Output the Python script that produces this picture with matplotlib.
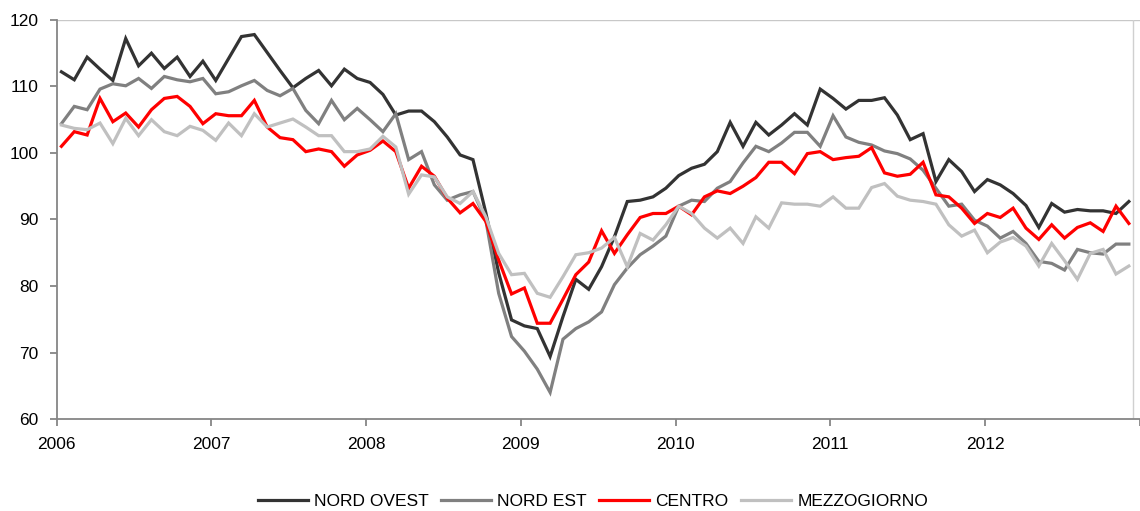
import numpy as np
import matplotlib
matplotlib.use('Agg')
import matplotlib.pyplot as plt

plt.rcParams['font.family'] = ['Liberation Sans', 'DejaVu Sans']

# monthly index values, Jan 2006 - Dec 2012
years = ['2006', '2007', '2008', '2009', '2010', '2011', '2012']

nord_ovest = [112.2, 111.0, 114.4, 112.6, 110.9, 117.2, 113.1, 115.0, 112.7, 114.4, 111.5, 113.8,
              110.9, 114.2, 117.5, 117.8, 115.1, 112.4, 109.8, 111.2, 112.4, 110.1, 112.6, 111.2,
              110.6, 108.8, 105.7, 106.3, 106.3, 104.7, 102.4, 99.7, 99.0, 91.0, 82.0, 74.9,
              74.0, 73.6, 69.4, 75.4, 81.0, 79.5, 82.9, 87.4, 92.7, 92.9, 93.4, 94.7,
              96.6, 97.7, 98.3, 100.2, 104.6, 101.0, 104.6, 102.7, 104.2, 105.9, 104.2, 109.6,
              108.2, 106.6, 107.9, 107.9, 108.3, 105.7, 102.0, 102.9, 95.7, 99.0, 97.2, 94.2,
              96.0, 95.2, 93.9, 92.1, 88.8, 92.4, 91.1, 91.5, 91.3, 91.3, 90.9, 92.7]

nord_est = [104.4, 107.0, 106.5, 109.6, 110.4, 110.1, 111.2, 109.7, 111.5, 111.0, 110.7, 111.2,
            108.9, 109.2, 110.1, 110.9, 109.4, 108.6, 109.7, 106.4, 104.4, 107.9, 105.0, 106.7,
            105.0, 103.2, 105.9, 99.0, 100.2, 95.2, 92.9, 93.7, 94.2, 89.9, 78.9, 72.4,
            70.2, 67.5, 64.0, 72.0, 73.6, 74.6, 76.1, 80.2, 82.7, 84.7, 86.0, 87.5,
            92.0, 92.9, 92.7, 94.7, 95.7, 98.5, 101.0, 100.2, 101.5, 103.1, 103.1, 101.0,
            105.6, 102.4, 101.6, 101.2, 100.3, 99.9, 99.1, 97.4, 94.7, 92.0, 92.3, 89.9,
            89.0, 87.2, 88.2, 86.4, 83.7, 83.4, 82.4, 85.5, 85.0, 84.8, 86.3, 86.3]

centro = [101.0, 103.2, 102.7, 108.2, 104.7, 106.0, 103.9, 106.5, 108.2, 108.5, 107.0, 104.4,
          105.9, 105.6, 105.6, 107.9, 103.9, 102.3, 102.0, 100.2, 100.6, 100.2, 98.0, 99.7,
          100.4, 101.8, 100.2, 94.7, 98.0, 96.5, 93.2, 91.0, 92.4, 89.7, 83.9, 78.8,
          79.7, 74.4, 74.4, 78.0, 81.7, 83.6, 88.3, 84.9, 87.7, 90.3, 90.9, 90.9,
          92.0, 90.7, 93.4, 94.3, 93.9, 95.0, 96.3, 98.6, 98.6, 96.9, 99.9, 100.2,
          99.0, 99.3, 99.5, 100.8, 97.0, 96.5, 96.8, 98.6, 93.7, 93.4, 91.7, 89.4,
          90.9, 90.3, 91.7, 88.7, 87.0, 89.2, 87.2, 88.8, 89.5, 88.2, 92.0, 89.4]

mezzogiorno = [104.2, 103.7, 103.5, 104.5, 101.4, 105.2, 102.6, 105.0, 103.2, 102.6, 104.0, 103.4,
               101.9, 104.5, 102.6, 105.9, 103.9, 104.5, 105.1, 103.9, 102.6, 102.6, 100.2, 100.2,
               100.6, 102.5, 100.9, 93.8, 96.7, 96.4, 93.4, 92.4, 94.2, 90.4, 84.9, 81.7,
               81.9, 78.9, 78.3, 81.4, 84.7, 85.0, 85.7, 87.3, 82.9, 87.9, 86.9, 89.2,
               92.0, 90.9, 88.7, 87.2, 88.7, 86.4, 90.4, 88.7, 92.5, 92.3, 92.3, 92.0,
               93.4, 91.7, 91.7, 94.8, 95.4, 93.5, 92.9, 92.7, 92.3, 89.2, 87.5, 88.4,
               85.0, 86.6, 87.3, 86.0, 83.0, 86.4, 83.8, 81.0, 84.9, 85.5, 81.8, 83.0]

series = [('NORD OVEST', nord_ovest, '#333333'),
          ('NORD EST', nord_est, '#808080'),
          ('CENTRO', centro, '#ff0000'),
          ('MEZZOGIORNO', mezzogiorno, '#c0c0c0')]

x = np.arange(len(nord_ovest))

fig = plt.figure(figsize=(11.4, 5.11), dpi=100)
ax = fig.add_axes([0.0497, 0.18, 0.95, 0.781])

for name, vals, col in series:
    ax.plot(x, vals, color=col, lw=2.3, label=name, solid_joinstyle='miter')

# year ticks sit at the start of each year
ticks = [-0.37 + 12.03 * k for k in range(8)]
ax.set_xticks(ticks)
ax.set_xticklabels(years + [''])
ax.set_xlim(ticks[0], ticks[-1])
ax.set_ylim(60, 120)
ax.set_yticks(range(60, 121, 10))

for s in ['left', 'bottom']:
    ax.spines[s].set_color('#868686')
    ax.spines[s].set_linewidth(1.3)
for s in ['top', 'right']:
    ax.spines[s].set_visible(False)
ax.axhline(120, color='#c8c8c8', lw=1)
ax.axvline(83.3, color='#d0d0d0', lw=1)

ax.tick_params(axis='both', colors='#868686', labelcolor='black', labelsize=12.5,
               length=5, width=1.3, direction='out')
ax.tick_params(axis='y', pad=8)
ax.tick_params(axis='x', pad=8)

fig.legend(loc='lower center', bbox_to_anchor=(0.52, -0.027), ncol=4, frameon=False,
           fontsize=12.5, handlelength=2.9, handletextpad=0.35, columnspacing=0.7)

plt.savefig('out.png', dpi=100)
